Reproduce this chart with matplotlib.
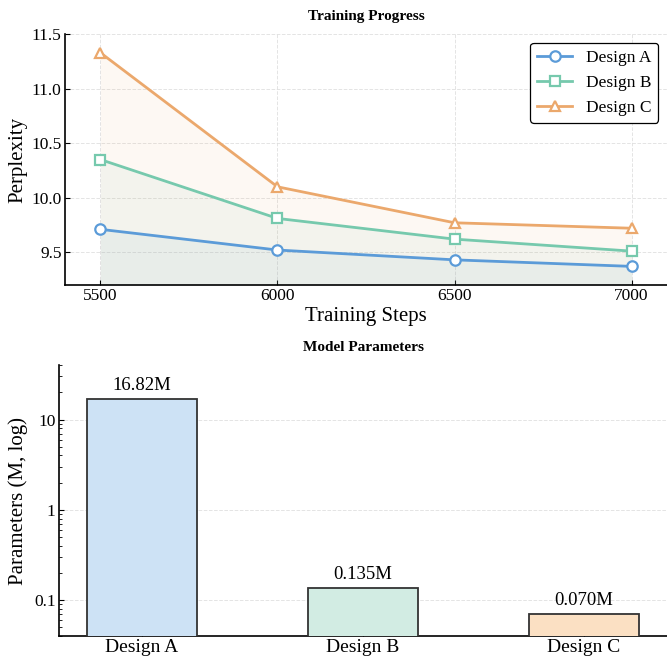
import numpy as np
import matplotlib
matplotlib.use('Agg')
import matplotlib.pyplot as plt

plt.rcParams['font.family'] = ['Liberation Serif', 'DejaVu Serif']
plt.rcParams['mathtext.fontset'] = 'stix'

# Data
steps = [5500, 6000, 6500, 7000]
ppl_a = [9.71, 9.52, 9.43, 9.37]
ppl_b = [10.35, 9.81, 9.62, 9.51]
ppl_c = [11.33, 10.10, 9.77, 9.72]
designs = ['Design A', 'Design B', 'Design C']
params = [16.82, 0.135, 0.070]
param_labels = ['16.82M', '0.135M', '0.070M']

line_colors = ['#5b9bd8', '#76c9ad', '#eba86c']
bar_colors = ['#cde2f5', '#d2ece3', '#fbe0c3']
markers = ['o', 's', '^']

fig = plt.figure(figsize=(6.67, 6.58), dpi=100)
ax1 = fig.add_axes([0.0975, 0.567, 0.9025, 0.381])
ax2 = fig.add_axes([0.0885, 0.0334, 0.9115, 0.4116])

# Training progress
ymin = 9.2
for vals, name, c, m in zip([ppl_a, ppl_b, ppl_c], designs, line_colors, markers):
    ax1.plot(steps, vals, color=c, marker=m, markersize=7.5, markerfacecolor='white',
             markeredgewidth=1.6, linewidth=2, label=name, zorder=3)
    ax1.fill_between(steps, vals, ymin, color=c, alpha=0.08, linewidth=0)
ax1.set_xlim(5400, 7100)
ax1.set_ylim(ymin, 11.5)
ax1.set_xticks(steps)
ax1.set_yticks([9.5, 10.0, 10.5, 11.0, 11.5])
ax1.set_xlabel('Training Steps', fontsize=15, labelpad=2)
ax1.set_ylabel('Perplexity', fontsize=15, labelpad=3)
ax1.set_title('Training Progress', fontsize=11, fontweight='bold', pad=10)
ax1.grid(True, linestyle='--', color='#dddddd', linewidth=0.7, alpha=0.8)
ax1.set_axisbelow(True)
leg = ax1.legend(loc='upper right', fontsize=12.5, frameon=True, fancybox=True,
                 edgecolor='black', framealpha=1)
leg.get_frame().set_linewidth(0.9)

# Model parameters
x = np.arange(len(designs))
bars = ax2.bar(x, params, width=0.5, color=bar_colors, edgecolor='#333333', linewidth=1.3, zorder=3)
ax2.set_yscale('log')
ax2.set_ylim(0.04, 40)
ax2.set_yticks([0.1, 1, 10])
ax2.set_yticklabels(['0.1', '1', '10'])
ax2.set_xticks(x)
ax2.set_xticklabels(designs)
ax2.set_ylabel('Parameters (M, log)', fontsize=15, labelpad=4)
ax2.set_title('Model Parameters', fontsize=11, fontweight='bold', pad=10)
ax2.grid(True, axis='y', which='major', linestyle='--', color='#dddddd', linewidth=0.7, alpha=0.8)
ax2.set_axisbelow(True)
for b, v, lab in zip(bars, params, param_labels):
    ax2.text(b.get_x() + b.get_width() / 2, v * 1.15, lab, ha='center', va='bottom', fontsize=13.5)

for ax in (ax1, ax2):
    ax.spines['top'].set_visible(False)
    ax.spines['right'].set_visible(False)
    ax.spines['left'].set_linewidth(1.2)
    ax.spines['bottom'].set_linewidth(1.2)
    ax.tick_params(direction='in', labelsize=12.5, pad=2.5)
    ax.tick_params(which='minor', direction='in')
ax2.tick_params(axis='x', labelsize=14)

plt.savefig('out.png', dpi=100)
plt.close()
